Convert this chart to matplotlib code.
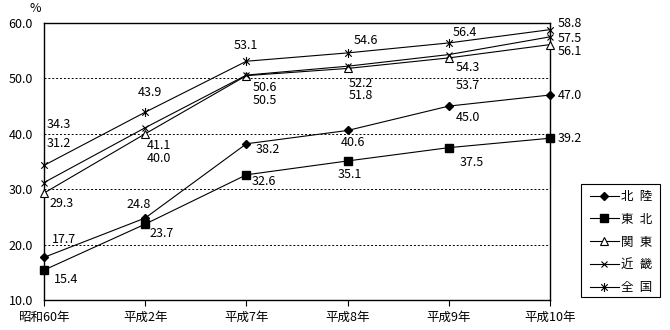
import matplotlib
matplotlib.use("Agg")
import matplotlib.pyplot as plt
from matplotlib.path import Path
from matplotlib.lines import Line2D
from matplotlib.patches import Rectangle

plt.rcParams["font.family"] = ["Noto Sans CJK JP", "DejaVu Sans"]

years = ["昭和60年", "平成2年", "平成7年", "平成8年", "平成9年", "平成10年"]
regions = ["北\u2002陸", "東\u2002北", "関\u2002東", "近\u2002畿", "全\u2002国"]

hokuriku = [17.7, 24.8, 38.2, 40.6, 45.0, 47.0]
tohoku = [15.4, 23.7, 32.6, 35.1, 37.5, 39.2]
kanto = [29.3, 40.0, 50.5, 51.8, 53.7, 56.1]
kinki = [31.2, 41.1, 50.6, 52.2, 54.3, 57.5]
zenkoku = [34.3, 43.9, 53.1, 54.6, 56.4, 58.8]

# asterisk: vertical bar plus an x
asterisk = Path(
    [(0, -1), (0, 1), (-0.72, -0.72), (0.72, 0.72), (-0.72, 0.72), (0.72, -0.72)],
    [Path.MOVETO, Path.LINETO, Path.MOVETO, Path.LINETO, Path.MOVETO, Path.LINETO],
)

styles = [
    dict(marker="D", ms=4.3, mfc="black", mec="black"),
    dict(marker="s", ms=5.5, mfc="black", mec="black"),
    dict(marker="^", ms=6, mfc="white", mec="black", mew=0.8),
    dict(marker="x", ms=5, mfc="black", mec="black", mew=0.8),
    dict(marker=asterisk, ms=6.5, mfc="black", mec="black", mew=0.8),
]

# label offsets in pixels (dx to left edge of text, dy to text centre)
offsets = [
    [(8, 18), (-19, 14), (9, -6), (-7, -12), (7, -11), (8, 0)],
    [(10, -9), (4, -9), (5, -7), (-10, -14), (11, -15), (8, 0)],
    [(5, -10), (2, -25), (6, -25), (1, -27), (7, -28), (8, -7)],
    [(3, 39), (2, -18), (6, -12), (1, -17), (7, -13), (8, -2)],
    [(3, 41), (-7, 20), (-13, 16), (6, 12), (4, 10), (8, 6)],
]

series = [hokuriku, tohoku, kanto, kinki, zenkoku]

W, H = 670, 330
fig = plt.figure(figsize=(W / 100, H / 100), dpi=100)
ax = fig.add_axes([44 / W, 30 / H, 506 / W, 277 / H])

x = list(range(len(years)))
for values, style, offs in zip(series, styles, offsets):
    ax.plot(x, values, color="black", lw=0.8, clip_on=False, zorder=3, **style)
    for xi, v, (dx, dy) in zip(x, values, offs):
        ax.annotate(f"{v:.1f}", (xi, v), xytext=(dx, dy), textcoords="offset pixels",
                    ha="left", va="center", fontsize=9, zorder=4)

ax.set_xlim(0, len(years) - 1)
ax.set_ylim(10, 60)
ax.set_xticks(x)
ax.set_xticklabels(years, fontsize=9)
ax.set_yticks([10, 20, 30, 40, 50, 60])
ax.set_yticklabels([f"{t:.1f}" for t in [10, 20, 30, 40, 50, 60]], fontsize=9)
ax.tick_params(axis="x", direction="out", length=4, width=0.8, pad=4)
ax.tick_params(axis="y", length=0, pad=8)
for sp in ax.spines.values():
    sp.set_linewidth(1.0)
for yv in [20, 30, 40, 50]:
    ax.axhline(yv, color="black", lw=0.7, ls=(0, (2, 2)), zorder=1)

fig.text(35 / W, 1 - 9 / H, "%", fontsize=9, ha="center", va="center")

# legend box drawn separately so its padding can differ per side
fig.add_artist(Rectangle((581 / W, 1 - 297 / H), 79 / W, 113 / H,
                         transform=fig.transFigure, fill=False,
                         edgecolor="black", lw=0.8))
handles = [Line2D([], [], color="black", lw=0.8, **s) for s in styles]
fig.legend(handles, regions, loc="upper left",
           bbox_to_anchor=(590 / W, 1 - 190 / H),
           frameon=False, fontsize=9, handlelength=2.3,
           handletextpad=0.2, labelspacing=0.78, borderpad=0,
           borderaxespad=0)

fig.savefig("out.png", dpi=100)
